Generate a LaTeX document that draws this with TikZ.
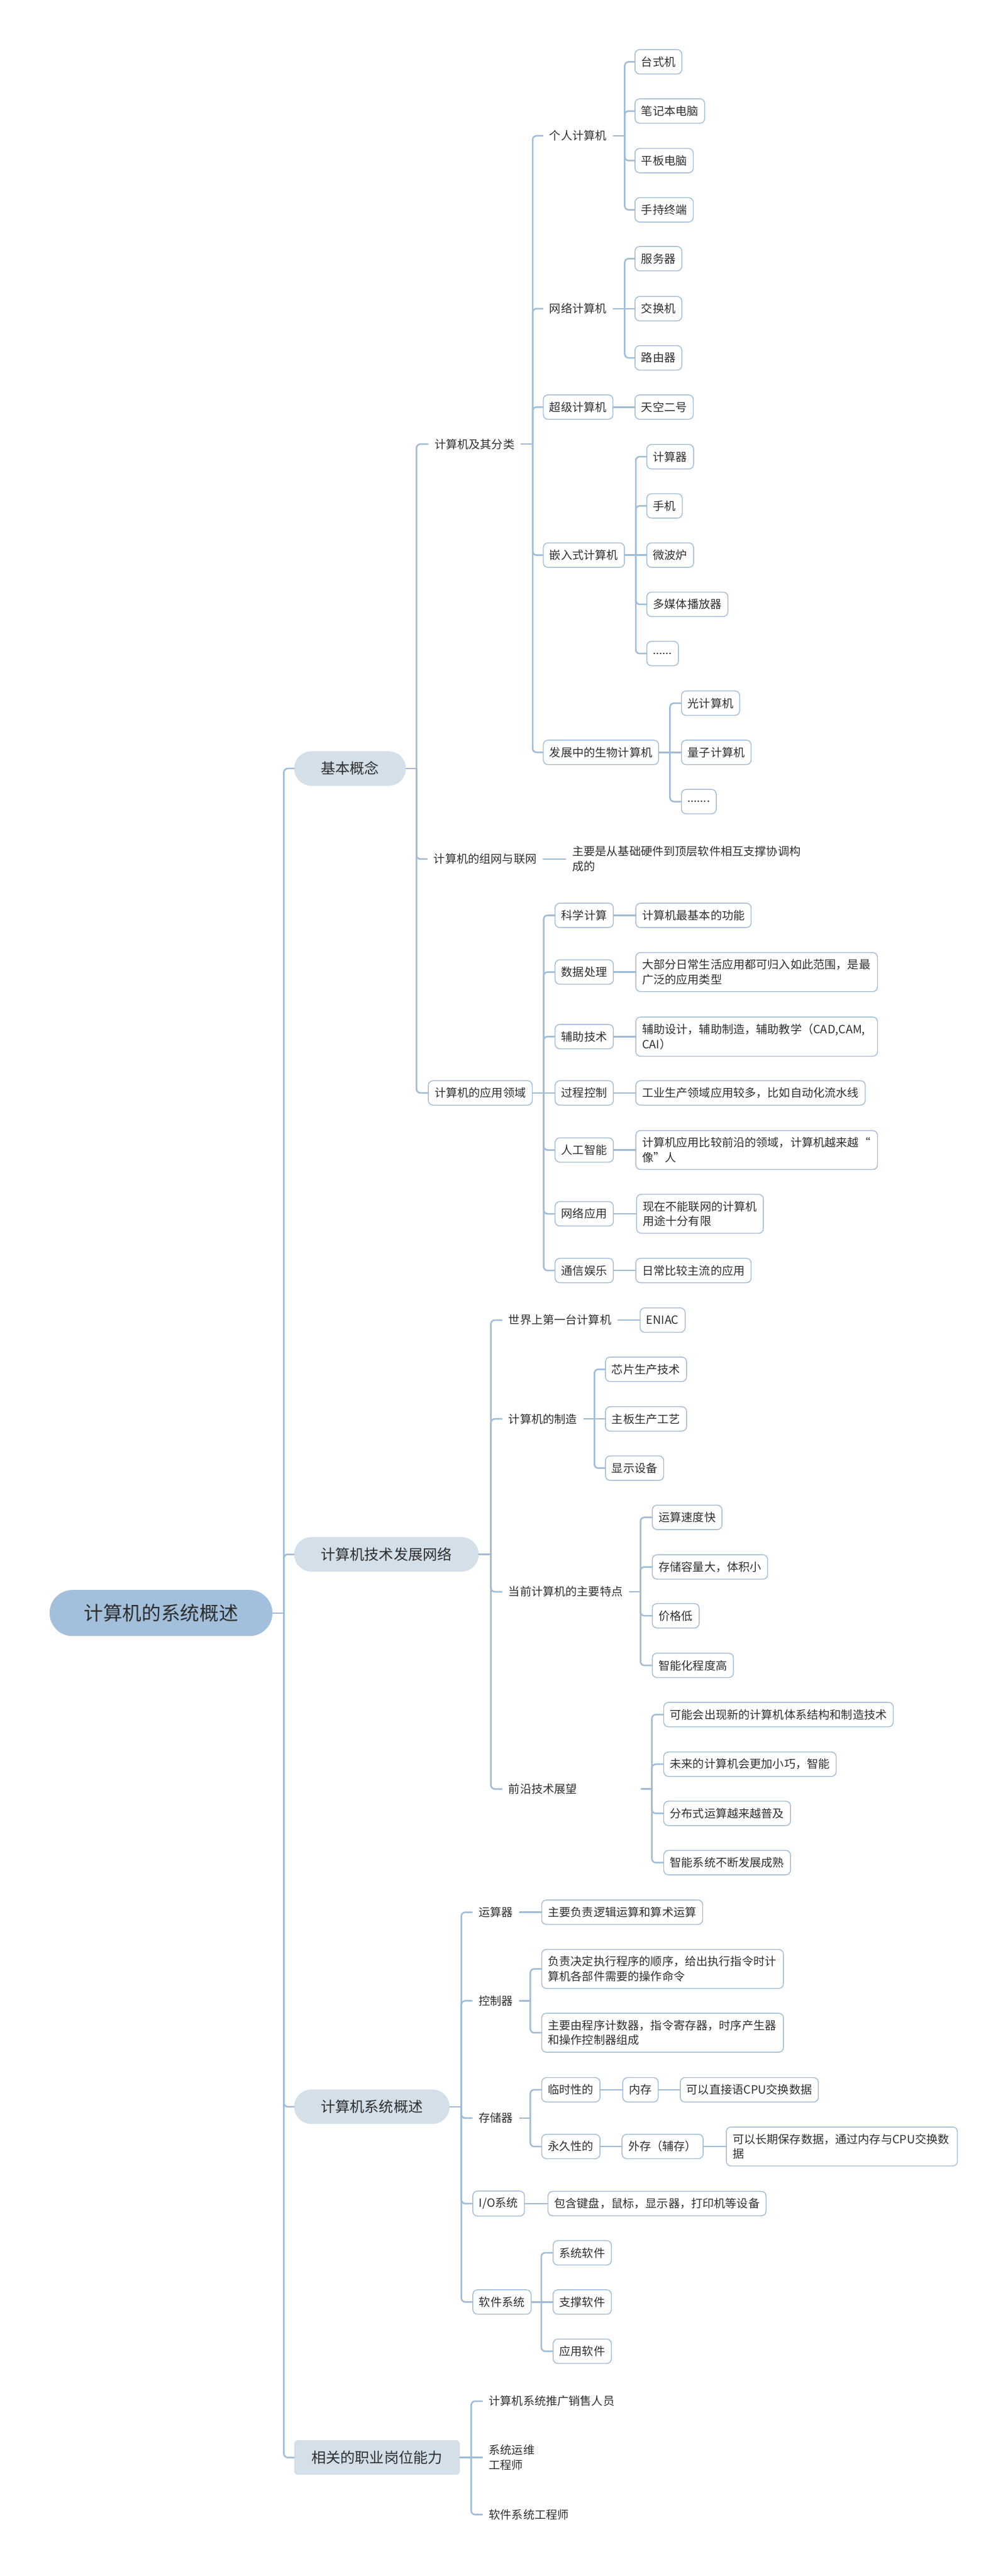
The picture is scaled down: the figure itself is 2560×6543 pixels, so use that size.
\documentclass[tikz,border=0pt]{standalone}
\usepackage{fontspec}
\newfontfamily\cjk{Noto Sans CJK SC}
\definecolor{linec}{RGB}{160,188,214}
\definecolor{boxc}{RGB}{160,188,214}
\definecolor{lonec}{RGB}{211,224,234}
\definecolor{rootc}{RGB}{162,192,219}
\definecolor{txtc}{RGB}{45,45,45}
\tikzset{
  base/.style={font=\cjk\fontsize{29}{38}\selectfont, text=txtc, inner xsep=16, inner ysep=17,
    minimum height=62, anchor=west, rounded corners=12, line width=2.2},
  bx/.style={base, draw=boxc, fill=white},
  pl/.style={base},
  ml/.style={align=left},
  wide/.style={text width=582, align=left},
  lone/.style={font=\cjk\fontsize{37}{44}\selectfont, text=txtc, fill=lonec, inner xsep=68, inner ysep=0,
    minimum height=88, rounded corners=44, anchor=west},
  ltwo/.style={lone, inner xsep=44, rounded corners=10},
  rootnode/.style={font=\cjk\fontsize{49}{58}\selectfont, text=txtc, fill=rootc, minimum width=566,
    minimum height=117, rounded corners=58, anchor=center},
  conn/.style={draw=linec, line width=4, line cap=round},
}
\newcommand{\mmfan}[3]{%
  \draw[conn] (#1.east) -- (#2);
  \foreach \c in {#3} {\draw[conn, rounded corners=10] (#2) |- (\c.west);}%
}
\newcommand{\mmlink}[2]{\draw[conn] (#1.east) -- (#2.west);}
\begin{document}
\begin{tikzpicture}[x=1pt,y=-1pt]
\useasboundingbox (0,0) rectangle (2560,6543);

% root and level 1
\node[rootnode] (root) at (409,4097) {计算机的系统概述};
\node[lone] (k1) at (747,1952) {基本概念};
\node[lone] (k2) at (747,3948) {计算机技术发展网络};
\node[lone] (k3) at (747,5351) {计算机系统概述};
\node[ltwo] (k4) at (747,6242) {相关的职业岗位能力};
\coordinate (rb) at (721,4097);
\mmfan{root}{rb}{k1,k2,k3,k4}

% ---------- 基本概念 ----------
\node[pl] (a1) at (1087,1128) {计算机及其分类};
\node[pl] (a2) at (1085,2182) {计算机的组网与联网};
\node[bx] (a3) at (1087,2776) {计算机的应用领域};
\coordinate (k1b) at (1058,1952);
\mmfan{k1}{k1b}{a1,a2,a3}

\node[pl] (a11) at (1379,345) {个人计算机};
\node[pl] (a12) at (1379,784) {网络计算机};
\node[bx] (a13) at (1379,1034) {超级计算机};
\node[bx] (a14) at (1379,1410) {嵌入式计算机};
\node[bx] (a15) at (1379,1911) {发展中的生物计算机};
\coordinate (a1b) at (1353,1128);
\mmfan{a1}{a1b}{a11,a12,a13,a14,a15}

\node[bx] (a111) at (1612,157) {台式机};
\node[bx] (a112) at (1612,282) {笔记本电脑};
\node[bx] (a113) at (1612,408) {平板电脑};
\node[bx] (a114) at (1612,533) {手持终端};
\coordinate (a11b) at (1587,345);
\mmfan{a11}{a11b}{a111,a112,a113,a114}

\node[bx] (a121) at (1612,657) {服务器};
\node[bx] (a122) at (1612,784) {交换机};
\node[bx] (a123) at (1612,909) {路由器};
\coordinate (a12b) at (1587,784);
\mmfan{a12}{a12b}{a121,a123}
\mmlink{a12}{a122}

\node[bx] (a131) at (1612,1034) {天空二号};
\mmlink{a13}{a131}

\node[bx] (a141) at (1642,1160) {计算器};
\node[bx] (a142) at (1642,1285) {手机};
\node[bx] (a143) at (1642,1410) {微波炉};
\node[bx] (a144) at (1642,1535) {多媒体播放器};
\node[bx] (a145) at (1642,1660) {......};
\coordinate (a14b) at (1615,1410);
\mmfan{a14}{a14b}{a141,a142,a144,a145}
\mmlink{a14}{a143}

\node[bx] (a151) at (1730,1786) {光计算机};
\node[bx] (a152) at (1730,1911) {量子计算机};
\node[bx] (a153) at (1730,2036) {.......};
\coordinate (a15b) at (1702,1911);
\mmfan{a15}{a15b}{a151,a153}
\mmlink{a15}{a152}

\node[pl, ml] (a21) at (1437,2182) {主要是从基础硬件到顶层软件相互支撑协调构\\成的};
\mmlink{a2}{a21}

\node[bx] (a31) at (1409,2325) {科学计算};
\node[bx] (a32) at (1409,2469) {数据处理};
\node[bx] (a33) at (1409,2633) {辅助技术};
\node[bx] (a34) at (1409,2776) {过程控制};
\node[bx] (a35) at (1409,2921) {人工智能};
\node[bx] (a36) at (1409,3083) {网络应用};
\node[bx] (a37) at (1409,3227) {通信娱乐};
\coordinate (a3b) at (1381,2776);
\mmfan{a3}{a3b}{a31,a32,a33,a35,a36,a37}
\mmlink{a3}{a34}

\node[bx] (a311) at (1614,2325) {计算机最基本的功能};
\node[bx, wide] (a321) at (1614,2469) {大部分日常生活应用都可归入如此范围，是最\\广泛的应用类型};
\node[bx, wide] (a331) at (1614,2633) {辅助设计，辅助制造，辅助教学（CAD,CAM,\\CAI）};
\node[bx] (a341) at (1614,2776) {工业生产领域应用较多，比如自动化流水线};
\node[bx, wide] (a351) at (1614,2921) {计算机应用比较前沿的领域，计算机越来越“\\像”人};
\node[bx, ml] (a361) at (1616,3083) {现在不能联网的计算机\\用途十分有限};
\node[bx] (a371) at (1614,3227) {日常比较主流的应用};
\mmlink{a31}{a311}
\mmlink{a32}{a321}
\mmlink{a33}{a331}
\mmlink{a34}{a341}
\mmlink{a35}{a351}
\mmlink{a36}{a361}
\mmlink{a37}{a371}

% ---------- 计算机技术发展网络 ----------
\node[pl] (b1) at (1275,3353) {世界上第一台计算机};
\node[pl] (b2) at (1275,3604) {计算机的制造};
\node[pl] (b3) at (1275,4043) {当前计算机的主要特点};
\node[pl, text width=320, align=left] (b4) at (1275,4544) {前沿技术展望};
\coordinate (k2b) at (1247,3948);
\mmfan{k2}{k2b}{b1,b2,b3,b4}

\node[bx] (b11) at (1625,3353) {ENIAC};
\mmlink{b1}{b11}

\node[bx] (b21) at (1537,3478) {芯片生产技术};
\node[bx] (b22) at (1537,3604) {主板生产工艺};
\node[bx] (b23) at (1537,3729) {显示设备};
\coordinate (b2b) at (1510,3604);
\mmfan{b2}{b2b}{b21,b23}
\mmlink{b2}{b22}

\node[bx] (b31) at (1656,3854) {运算速度快};
\node[bx] (b32) at (1656,3980) {存储容量大，体积小};
\node[bx] (b33) at (1656,4104) {价格低};
\node[bx] (b34) at (1656,4230) {智能化程度高};
\coordinate (b3b) at (1627,4043);
\mmfan{b3}{b3b}{b31,b32,b33,b34}

\node[bx] (b41) at (1685,4355) {可能会出现新的计算机体系结构和制造技术};
\node[bx] (b42) at (1685,4481) {未来的计算机会更加小巧，智能};
\node[bx] (b43) at (1685,4606) {分布式运算越来越普及};
\node[bx] (b44) at (1685,4731) {智能系统不断发展成熟};
\coordinate (b4b) at (1656,4544);
\mmfan{b4}{b4b}{b41,b42,b43,b44}

% ---------- 计算机系统概述 ----------
\node[pl] (c1) at (1199,4857) {运算器};
\node[pl] (c2) at (1199,5082) {控制器};
\node[pl] (c3) at (1199,5380) {存储器};
\node[bx] (c4) at (1200,5597) {I/O系统};
\node[bx] (c5) at (1200,5847) {软件系统};
\coordinate (k3b) at (1172,5351);
\mmfan{k3}{k3b}{c1,c2,c3,c4,c5}

\node[bx] (c11) at (1375,4857) {主要负责逻辑运算和算术运算};
\mmlink{c1}{c11}

\node[bx, wide] (c21) at (1375,5001) {负责决定执行程序的顺序，给出执行指令时计\\算机各部件需要的操作命令};
\node[bx, wide] (c22) at (1375,5163) {主要由程序计数器，指令寄存器，时序产生器\\和操作控制器组成};
\coordinate (c2b) at (1347,5082);
\mmfan{c2}{c2b}{c21,c22}

\node[bx] (c31) at (1375,5308) {临时性的};
\node[bx] (c32) at (1375,5452) {永久性的};
\coordinate (c3b) at (1347,5380);
\mmfan{c3}{c3b}{c31,c32}
\node[bx] (c311) at (1581,5308) {内存};
\node[bx] (c312) at (1727,5308) {可以直接语CPU交换数据};
\mmlink{c31}{c311}
\mmlink{c311}{c312}
\node[bx] (c321) at (1579,5452) {外存（辅存）};
\node[bx, text width=555, align=left] (c322) at (1844,5452) {可以长期保存数据，通过内存与CPU交换数\\据};
\mmlink{c32}{c321}
\mmlink{c321}{c322}

\node[bx] (c41) at (1391,5597) {包含键盘，鼠标，显示器，打印机等设备};
\mmlink{c4}{c41}

\node[bx] (c51) at (1404,5722) {系统软件};
\node[bx] (c52) at (1404,5847) {支撑软件};
\node[bx] (c53) at (1404,5972) {应用软件};
\coordinate (c5b) at (1375,5847);
\mmfan{c5}{c5b}{c51,c53}
\mmlink{c5}{c52}

% ---------- 相关的职业岗位能力 ----------
\node[pl] (d1) at (1225,6099) {计算机系统推广销售人员};
\node[pl, ml] (d2) at (1225,6242) {系统运维\\工程师};
\node[pl] (d3) at (1225,6387) {软件系统工程师};
\coordinate (k4b) at (1197,6242);
\mmfan{k4}{k4b}{d1,d3}
\mmlink{k4}{d2}
\end{tikzpicture}
\end{document}
